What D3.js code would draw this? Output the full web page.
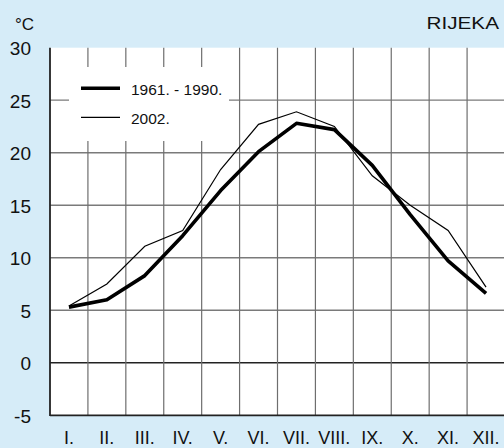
<!DOCTYPE html>
<html>
<head>
<meta charset="utf-8">
<script src="https://cdn.jsdelivr.net/npm/d3@7"></script>
<style>
  html, body { margin: 0; padding: 0; background: #d6ecf8; }
  svg { display: block; font-family: "Liberation Sans", Arial, sans-serif; }
</style>
</head>
<body>
<div id="chart"></div>
<script>
// monthly mean air temperature, Rijeka
var months = ["I.", "II.", "III.", "IV.", "V.", "VI.", "VII.", "VIII.", "IX.", "X.", "XI.", "XII."];
var normal_1961_1990 = [5.3, 6.0, 8.3, 12.1, 16.4, 20.1, 22.8, 22.2, 18.8, 14.1, 9.7, 6.6];
var year_2002 = [5.4, 7.5, 11.1, 12.6, 18.4, 22.7, 23.9, 22.5, 17.8, 15.0, 12.6, 7.2];
var y_ticks = [-5, 0, 5, 10, 15, 20, 25, 30];
var legend_labels = ["1961. - 1990.", "2002."];

var width = 504, height = 448;
var plot_left = 50, plot_right = 505, plot_top = 47.7, plot_bottom = 415.3;

var svg = d3.select("#chart").append("svg").attr("width", width).attr("height", height);

var x = d3.scaleBand().domain(months).range([plot_left, plot_right]).padding(0);
var y = d3.scaleLinear().domain([-5, 30]).range([plot_bottom, plot_top]);

// plot area
svg.append("rect").attr("x", plot_left).attr("y", plot_top)
  .attr("width", plot_right - plot_left).attr("height", plot_bottom - plot_top).style("fill", "white");

// horizontal grid
svg.append("g").selectAll("line").data(y_ticks.filter(function(d){ return d != -5 && d != 30; }))
  .enter().append("line")
  .attr("x1", plot_left).attr("x2", plot_right)
  .attr("y1", function(d){ return y(d); }).attr("y2", function(d){ return y(d); })
  .style("stroke", function(d){ return d == 0 ? "#222" : "#7a7a7a"; })
  .style("stroke-width", function(d){ return d == 0 ? 1.6 : 1.3; });

// vertical grid
svg.append("g").selectAll("line").data(months.slice(1))
  .enter().append("line")
  .attr("x1", function(d){ return x(d); }).attr("x2", function(d){ return x(d); })
  .attr("y1", plot_top).attr("y2", plot_bottom)
  .style("stroke", "#6e6e6e").style("stroke-width", 1.2);

// legend box covers the grid
svg.append("rect").attr("x", 69).attr("y", 67).attr("width", 160).attr("height", 74).style("fill", "white");

// axes frame
svg.append("line").attr("x1", plot_left).attr("x2", plot_left).attr("y1", plot_top).attr("y2", plot_bottom + 0.8)
  .style("stroke", "#222").style("stroke-width", 1.8);
svg.append("line").attr("x1", plot_left).attr("x2", plot_right).attr("y1", plot_bottom).attr("y2", plot_bottom)
  .style("stroke", "#222").style("stroke-width", 1.8);

// lines
var line = d3.line()
  .x(function(d, i){ return x(months[i]) + x.bandwidth() / 2; })
  .y(function(d){ return y(d); });

svg.append("path").datum(year_2002).attr("d", line)
  .style("fill", "none").style("stroke", "black").style("stroke-width", 1.2);
svg.append("path").datum(normal_1961_1990).attr("d", line)
  .style("fill", "none").style("stroke", "black").style("stroke-width", 3.6).style("stroke-linejoin", "round");

// legend
var legend = svg.append("g");
var legend_widths = [3.6, 1.2];
var legend_y = [88.3, 117.3];
for (i = 0; i < legend_labels.length; i++)
{
  legend.append("line").attr("x1", 81).attr("x2", 120).attr("y1", legend_y[i]).attr("y2", legend_y[i])
    .style("stroke", "black").style("stroke-width", legend_widths[i]);
  legend.append("text").attr("x", 131).attr("y", legend_y[i] + 6.3).text(legend_labels[i])
    .style("font-size", "15.5px").style("fill", "#111");
}

// y tick labels
svg.append("g").selectAll("text").data(y_ticks)
  .enter().append("text")
  .attr("x", 31).attr("y", function(d){ return y(d) + 7.5; })
  .attr("text-anchor", "end")
  .text(function(d){ return d; })
  .style("font-size", "19px").style("fill", "#111");

// x labels
svg.append("g").selectAll("text").data(months)
  .enter().append("text")
  .attr("x", function(d){ return x(d) + x.bandwidth() / 2; }).attr("y", 444)
  .attr("text-anchor", "middle")
  .text(function(d){ return d; })
  .style("font-size", "18px").style("fill", "#111");

// unit and title
svg.append("text").attr("x", 15).attr("y", 29.5).text("°C").style("font-size", "17px").style("fill", "#111");
svg.append("text").attr("x", 499).attr("y", 28.5).attr("text-anchor", "end").text("RIJEKA")
  .attr("textLength", 72.5).attr("lengthAdjust", "spacingAndGlyphs")
  .style("font-size", "17px").style("fill", "#111");
</script>
</body>
</html>
